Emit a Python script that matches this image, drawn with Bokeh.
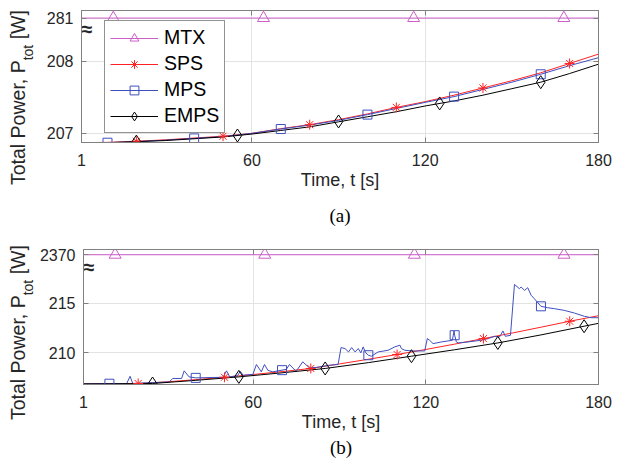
import math
from bokeh.plotting import figure
from bokeh.layouts import column, row
from bokeh.models import (FixedTicker, Range1d, Legend, LegendItem, Title, Div, LinearAxis,
                          CustomJSTickFormatter)
from bokeh.core.properties import value
from bokeh.embed import file_html
from bokeh.resources import INLINE

# ---------------- data ----------------
x_ticks = [1, 60, 120, 180]

# (a)
a_t = [1, 10, 20, 30, 40, 50, 60, 70, 80, 90, 100, 110, 120, 130, 140, 150, 160, 170, 180]
a_sps = [206.87, 206.875, 206.89, 206.91, 206.935, 206.96, 207.0, 207.065, 207.12, 207.19,
         207.27, 207.36, 207.44, 207.53, 207.63, 207.73, 207.84, 207.97, 208.10]
a_mps = [206.87, 206.87, 206.885, 206.905, 206.93, 206.955, 207.0, 207.06, 207.115, 207.18,
         207.26, 207.345, 207.43, 207.51, 207.61, 207.71, 207.82, 207.94, 208.05]
a_emps = [206.87, 206.87, 206.885, 206.9, 206.925, 206.95, 206.99, 207.04, 207.09, 207.16,
          207.23, 207.30, 207.38, 207.45, 207.53, 207.62, 207.71, 207.83, 207.96]
a_mtx_value = 281
a_mtx_axis_pos = 208.6          # where the broken axis shows 281
a_break_pos = 208.45
a_yticks = [207, 208]
a_sps_mk_t = [20, 50, 80, 110, 140, 170]
a_sps_mk_v = [206.89, 206.96, 207.12, 207.36, 207.63, 207.97]
a_mps_mk_t = [10, 40, 70, 100, 130, 160]
a_mps_mk_v = [206.87, 206.93, 207.06, 207.26, 207.51, 207.82]
a_emps_mk_t = [20, 55, 90, 125, 160]
a_emps_mk_v = [206.885, 206.97, 207.165, 207.415, 207.71]

mtx_t = [1, 180]
mtx_mk_t = [12, 64, 116, 168]

# (b)
b_sps_t = [1, 10, 20, 30, 40, 50, 60, 70, 80, 90, 100, 110, 120, 130, 140, 150, 160, 170, 180]
b_sps = [206.83, 206.84, 206.87, 207.04, 207.26, 207.5, 207.78, 208.07, 208.39, 208.85,
         209.32, 209.8, 210.31, 210.85, 211.41, 211.97, 212.56, 213.16, 213.72]
b_emps_t = [1, 10, 25, 40, 55, 70, 85, 100, 115, 130, 145, 160, 175, 180]
b_emps = [206.83, 206.84, 206.87, 207.19, 207.54, 207.95, 208.39, 208.98, 209.63, 210.28,
          210.97, 211.78, 212.66, 212.95]
b_mps_t = [1, 16, 17.2, 18.1, 30.8, 32, 35.1, 36, 37.7, 40, 49.5, 50.7, 51.8, 54.5, 55.5, 56.5,
           59.9, 61.1, 62.8, 63.9, 65.1, 66.8, 70, 71.5, 72.6, 74.9, 77.2, 79.5, 82, 86, 89.5,
           90.5, 91.9, 93.1, 94.2, 95.4, 96.5, 97.4, 98.2, 99.1, 100, 101.1, 103.4, 106.9, 109.2,
           111, 111.5, 112.7, 115, 119.6, 120.5, 121.3, 122.5, 125.4, 127.7, 129.2, 129.8, 130,
           130.6, 131.2, 134.6, 139.2, 141.6, 143.9, 145.6, 146.8, 147.6, 149.4, 150.8, 152.5,
           153.1, 154.3, 155.4, 156.6, 157.7, 160, 162.3, 164.7, 168.1, 171.6, 175.1, 177.4, 180]
b_mps = [206.83, 206.86, 207.6, 206.88, 207.02, 207.38, 207.38, 208.15, 207.54, 207.44, 207.5,
         208.15, 207.55, 207.65, 208.1, 207.7, 207.8, 208.79, 208.05, 208.79, 208.2, 208.05,
         208.22, 208.3, 208.79, 208.1, 209.06, 208.45, 208.5, 208.7, 208.8, 210.5, 210.4,
         210.06, 210.5, 210.06, 210.4, 209.97, 210.57, 209.97, 209.73, 209.63, 210.06, 210.23,
         210.57, 210.74, 210.4, 210.23, 210.16, 210.16, 211.41, 211.24, 210.9, 211.07, 211.17,
         211.24, 212.18, 211.75, 211.07, 210.97, 211.07, 211.24, 211.41, 211.64, 211.57, 212.18,
         211.64, 211.74, 216.88, 216.45, 216.62, 216.28, 216.55, 215.78, 215.44, 214.67, 214.53,
         214.43, 214.26, 213.99, 213.66, 213.52, 213.52]
b_mtx_value = 2370
b_mtx_axis_pos = 219.88
b_break_pos = 218.6
b_yticks = [210, 215]
b_sps_mk_t = [20, 50, 80, 110, 140, 170]
b_sps_mk_v = [206.87, 207.5, 208.39, 209.8, 211.41, 213.16]
b_mps_mk_t = [10, 40, 70, 100, 130, 160]
b_mps_mk_v = [206.85, 207.44, 208.22, 209.73, 211.75, 214.67]
b_emps_mk_t = [25, 55, 85, 115, 145, 175]
b_emps_mk_v = [206.87, 207.54, 208.39, 209.63, 210.97, 212.66]

ylabel_main, ylabel_sub, ylabel_tail = "Total Power, P", "tot", " [W]"

# ---------------- style ----------------
C_MTX = "#cc5ec8"
C_SPS = "#ff2222"
C_MPS = "#3f4fbf"
C_EMPS = "#000000"
AX = "#808080"
TXT = "#262626"
FONT = "Liberation Sans"
LW = 36      # width of the y-label strip


def box_axis(ticks):
    """Unlabelled axis that only carries inward ticks on the box's top/right side."""
    return LinearAxis(ticker=FixedTicker(ticks=ticks),
                      formatter=CustomJSTickFormatter(code="return ''"),
                      major_label_text_font_size="1px", major_label_standoff=0,
                      major_tick_in=5, major_tick_out=0, minor_tick_line_color=None,
                      axis_line_color=AX, major_tick_line_color=AX)


def make_fig(height, y0, y1, b_top, b_bottom, yticks, mtx_pos, mtx_val, break_y, tag,
             tag_standoff):
    p = figure(width=620 - LW, height=height, x_range=Range1d(1, 180), y_range=Range1d(y0, y1),
               output_backend="svg", toolbar_location=None,
               min_border_left=81 - LW, min_border_right=22, min_border_top=b_top,
               min_border_bottom=b_bottom)
    p.outline_line_color = AX
    p.outline_line_width = 1
    ticks = yticks + [mtx_pos]
    p.xaxis.ticker = FixedTicker(ticks=x_ticks)
    p.yaxis.ticker = FixedTicker(ticks=ticks)
    p.yaxis.major_label_overrides = {mtx_pos: str(mtx_val)}
    for ax in (p.xaxis[0], p.yaxis[0]):
        ax.axis_line_color = AX
        ax.major_tick_line_color = AX
        ax.major_tick_in = 5
        ax.major_tick_out = 0
        ax.minor_tick_line_color = None
        ax.major_label_text_font = FONT
        ax.major_label_text_font_size = "16px"
        ax.major_label_text_color = TXT
    p.xaxis.major_label_standoff = 11
    p.yaxis.major_label_standoff = 8
    p.xaxis.axis_label = "Time, t [s]"
    p.xaxis.axis_label_text_font = FONT
    p.xaxis.axis_label_text_font_size = "18px"
    p.xaxis.axis_label_text_font_style = "normal"
    p.xaxis.axis_label_text_color = TXT
    p.xaxis.axis_label_standoff = 1
    p.xgrid.grid_line_color = "#e3e3e3"
    p.ygrid.grid_line_color = "#e3e3e3"
    p.add_layout(box_axis(ticks), "right")
    p.add_layout(box_axis(x_ticks), "above")
    # axis-break mark
    p.text(x=[1], y=[break_y], text=["\u2248"], text_align="left", text_baseline="middle",
           x_offset=0, text_font=value(FONT), text_font_size=value("20px"),
           text_font_style="bold", text_color=TXT)
    p.add_layout(Title(text=tag, align="center", text_font="Liberation Serif",
                       text_font_size="19px", text_font_style="normal", text_color="#000000",
                       standoff=tag_standoff), "below")
    return p


def label_div(height, start_y):
    """Narrow strip holding the rotated y-axis title with its subscript."""
    html = (
        f'<div style="position:relative;width:{LW}px;height:{height}px;overflow:visible;">'
        f'<div style="position:absolute;left:9px;top:{start_y}px;transform-origin:0 0;'
        f'transform:rotate(-90deg);white-space:nowrap;font-family:\'{FONT}\';'
        f'font-size:19.5px;line-height:19.5px;color:{TXT};">'
        f'{ylabel_main}<span style="font-size:14px;position:relative;top:8px;">'
        f'{ylabel_sub}</span>{ylabel_tail}</div></div>'
    )
    return Div(text=html, width=LW, height=height, margin=0,
               styles={"overflow": "visible", "margin": "0", "padding": "0"})


def draw(p, t_s, v_s, t_m, v_m, t_e, v_e, mtx_pos, mk):
    r = {}
    r["mtx_l"] = p.line(mtx_t, [mtx_pos] * len(mtx_t), line_color=C_MTX, line_width=1)
    r["mtx_m"] = p.scatter(mtx_mk_t, [mtx_pos] * len(mtx_mk_t), marker="triangle", size=12,
                           line_color=C_MTX, fill_color=None, line_width=1)
    r["sps_l"] = p.line(t_s, v_s, line_color=C_SPS, line_width=1)
    r["mps_l"] = p.line(t_m, v_m, line_color=C_MPS, line_width=1)
    r["emps_l"] = p.line(t_e, v_e, line_color=C_EMPS, line_width=1)
    r["sps_m"] = p.scatter(mk[0], mk[1], marker="asterisk", size=10, line_color=C_SPS,
                           line_width=1)
    r["mps_m"] = p.scatter(mk[2], mk[3], marker="square", size=9, line_color=C_MPS,
                           fill_color=None, line_width=1)
    r["emps_m"] = p.scatter(mk[4], mk[5], marker="diamond", size=13, line_color=C_EMPS,
                            fill_color=None, line_width=1)
    return r


# ---------- (a) ----------
pa = make_fig(240, 206.873, 208.705, 10, 98, a_yticks, a_mtx_axis_pos, a_mtx_value,
              a_break_pos, "(a)", 21)
ra = draw(pa, a_t, a_sps, a_t, a_mps, a_t, a_emps, a_mtx_axis_pos,
          (a_sps_mk_t, a_sps_mk_v, a_mps_mk_t, a_mps_mk_v, a_emps_mk_t, a_emps_mk_v))
legend = Legend(items=[
    LegendItem(label="MTX", renderers=[ra["mtx_l"], ra["mtx_m"]]),
    LegendItem(label="SPS", renderers=[ra["sps_l"], ra["sps_m"]]),
    LegendItem(label="MPS", renderers=[ra["mps_l"], ra["mps_m"]]),
    LegendItem(label="EMPS", renderers=[ra["emps_l"], ra["emps_m"]]),
], location=(23, 9), glyph_width=48, glyph_height=22, label_standoff=6, padding=5, spacing=3,
    label_text_font=FONT, label_text_font_size="19.5px", label_text_color="#000000",
    border_line_color=TXT, border_line_width=1, background_fill_alpha=1.0, margin=0)
pa.add_layout(legend)
la = label_div(240, 185)

# ---------- (b) ----------
pb = make_fig(223, 206.77, 220.41, 9, 79, b_yticks, b_mtx_axis_pos, b_mtx_value,
              b_break_pos, "(b)", 1)
draw(pb, b_sps_t, b_sps, b_mps_t, b_mps, b_emps_t, b_emps, b_mtx_axis_pos,
     (b_sps_mk_t, b_sps_mk_v, b_mps_mk_t, b_mps_mk_v, b_emps_mk_t, b_emps_mk_v))
lb = label_div(223, 420 - 240)

layout = column(row(la, pa, spacing=0), row(lb, pb, spacing=0), spacing=0)
open("out.html", "w").write(file_html(layout, INLINE))
